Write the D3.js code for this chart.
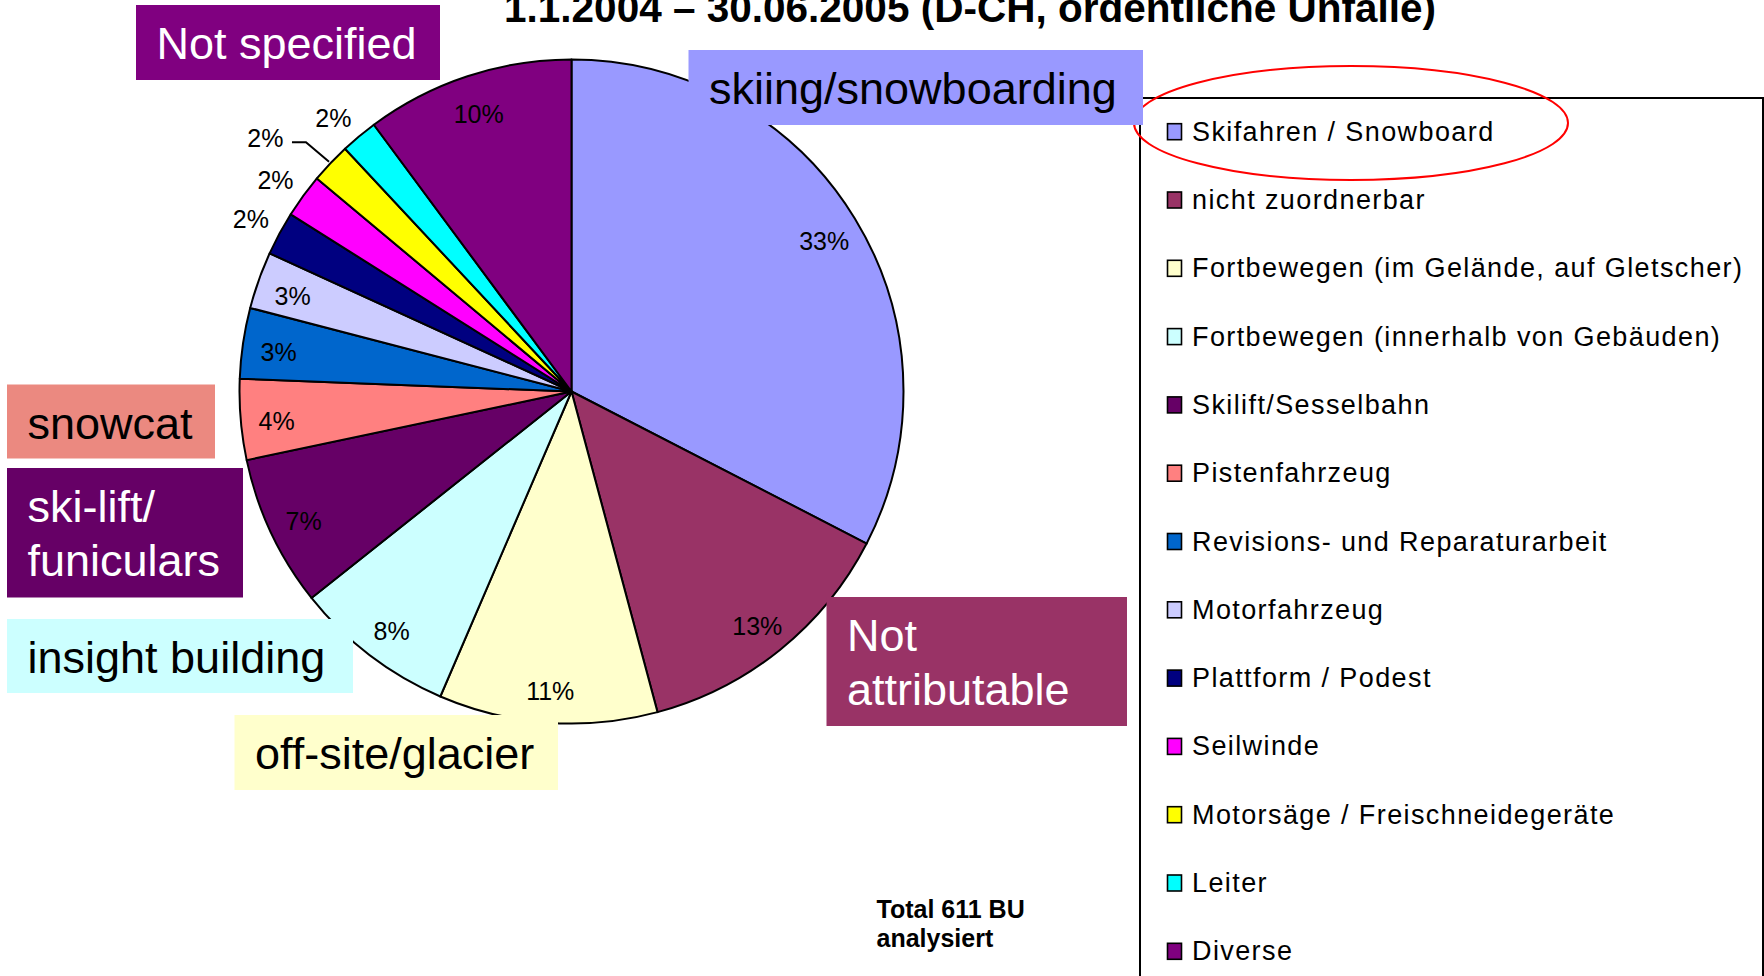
<!DOCTYPE html>
<html>
<head>
<meta charset="utf-8">
<script src="https://cdn.jsdelivr.net/npm/d3@7"></script>
<style>
  html, body { margin: 0; padding: 0; background: #fff; overflow: hidden; }
  svg { display: block; font-family: "Liberation Sans", Arial, sans-serif; }
</style>
</head>
<body>
<div id="chart"></div>
<script>
// data (611 analysed cases)
const categories = [
  'Skifahren / Snowboard',
  'nicht zuordnerbar',
  'Fortbewegen (im Gelände, auf Gletscher)',
  'Fortbewegen (innerhalb von Gebäuden)',
  'Skilift/Sesselbahn',
  'Pistenfahrzeug',
  'Revisions- und Reparaturarbeit',
  'Motorfahrzeug',
  'Plattform / Podest',
  'Seilwinde',
  'Motorsäge / Freischneidegeräte',
  'Leiter',
  'Diverse'
];
const counts = [199, 81, 65, 48, 45, 24, 21, 17, 13, 13, 12, 11, 62];
const colors = ['#9999FF', '#993366', '#FFFFCC', '#CCFFFF', '#660066', '#FF8080',
  '#0066CC', '#CCCCFF', '#000080', '#FF00FF', '#FFFF00', '#00FFFF', '#800080'];

const title = '1.1.2004 – 30.06.2005 (D-CH, ordentliche Unfälle)';
const totalNote = ['Total 611 BU', 'analysiert'];

// english callouts pasted over the chart
const calloutText = [
  ['Not specified'],
  ['skiing/snowboarding'],
  ['snowcat'],
  ['ski-lift/', 'funiculars'],
  ['insight building'],
  ['off-site/glacier'],
  ['Not', 'attributable']
];
const calloutFill = ['#800080', '#9999FF', '#EB8980', '#660066', '#CCFFFF', '#FFFFCC', '#993366'];
const calloutInk = ['#fff', '#000', '#000', '#fff', '#000', '#000', '#fff'];

// layout
const W = 1764, H = 976;
const cx = 571.5, cy = 391.5, R = 332;
const calloutBoxes = [
  [136, 5, 304, 75],
  [688.5, 50, 454.5, 75],
  [7, 384.5, 208, 74],
  [7, 468, 236, 129.5],
  [7, 619, 346, 74],
  [234.5, 715, 323.5, 75],
  [826.5, 597, 300.5, 129]
];
const nudge = { 10: { da: -0.054, r: 378 } }; // crowded label gets a leader line

const svg = d3.select('#chart').append('svg')
  .attr('width', W)
  .attr('height', H);

svg.append('rect').attr('width', W).attr('height', H).attr('fill', '#fff');

const total = d3.sum(counts);
const pct = d3.format('.0%');

const pie = d3.pie().sort(null).value(d => d);
const arcs = pie(counts);

const arc = d3.arc().innerRadius(0).outerRadius(R);
const inLabel = d3.arc().innerRadius(296).outerRadius(296);

const g = svg.append('g').attr('transform', `translate(${cx},${cy})`);

g.selectAll('.slice')
  .data(arcs)
  .enter()
  .append('path')
  .attr('class', 'slice')
  .attr('d', arc)
  .attr('fill', (d, i) => colors[i])
  .attr('stroke', '#000')
  .attr('stroke-width', 2)
  .attr('stroke-linejoin', 'round');

const polar = (r, a) => [r * Math.sin(a), -r * Math.cos(a)];
const capH = 18;

// percentage labels
arcs.forEach((d, i) => {
  const share = d.data / total;
  const mid = (d.startAngle + d.endAngle) / 2;
  const outside = share < 0.025;

  const t = g.append('text')
    .attr('text-anchor', 'middle')
    .attr('font-size', 25)
    .attr('fill', '#000')
    .text(pct(share));
  const w = t.node().getComputedTextLength();

  let c;
  if (outside) {
    // nearest corner of the label box sits on an outer ring
    const a = nudge[i] ? polar(nudge[i].r, mid + nudge[i].da) : polar(344, mid);
    c = [a[0] + Math.sign(a[0]) * w / 2, a[1] + Math.sign(a[1]) * capH / 2];
    t.attr('x', c[0]).attr('y', c[1] + capH / 2);
  } else {
    c = inLabel.centroid(d);
    t.attr('x', c[0]).attr('y', c[1] + capH / 2 + 4);
  }

  if (nudge[i]) {
    const x0 = c[0] + w / 2 + 8.5;
    const y0 = c[1] + 4.5;
    const end = polar(R + 2, mid);
    g.append('path')
      .attr('d', `M${x0},${y0}H${x0 + 14}L${end[0]},${end[1]}`)
      .attr('fill', 'none')
      .attr('stroke', '#000')
      .attr('stroke-width', 2);
  }
});

// legend
svg.append('rect')
  .attr('x', 1140)
  .attr('y', 98)
  .attr('width', 623)
  .attr('height', 1000)
  .attr('fill', 'none')
  .attr('stroke', '#000')
  .attr('stroke-width', 2);

const rowY = d3.scalePoint().domain(categories).range([140.7, 140.7 + 12 * 68.3]);

const item = svg.selectAll('.legend-item')
  .data(categories)
  .enter()
  .append('g')
  .attr('class', 'legend-item')
  .attr('transform', d => `translate(0,${rowY(d)})`);

item.append('rect')
  .attr('x', 1167.5)
  .attr('y', -17)
  .attr('width', 14)
  .attr('height', 16)
  .attr('fill', (d, i) => colors[i])
  .attr('stroke', '#000')
  .attr('stroke-width', 1.6);

item.append('text')
  .attr('x', 1192)
  .attr('y', 0)
  .attr('font-size', 27)
  .attr('letter-spacing', 1.4)
  .attr('fill', '#000')
  .text(d => d);

// red ring round the first legend entry
svg.append('ellipse')
  .attr('cx', 1351)
  .attr('cy', 123)
  .attr('rx', 217)
  .attr('ry', 57)
  .attr('fill', 'none')
  .attr('stroke', '#FF0000')
  .attr('stroke-width', 2);

// callout boxes
calloutText.forEach((lines, i) => {
  const [x, y, w, h] = calloutBoxes[i];
  svg.append('rect')
    .attr('x', x).attr('y', y)
    .attr('width', w).attr('height', h)
    .attr('fill', calloutFill[i]);
  const t = svg.append('text')
    .attr('x', x + 20.5)
    .attr('y', y + 54)
    .attr('font-size', 45)
    .attr('fill', calloutInk[i]);
  lines.forEach((line, j) => {
    t.append('tspan')
      .attr('x', x + 20.5)
      .attr('dy', j === 0 ? 0 : 53.5)
      .text(line);
  });
});

// title, cut at the top edge as in the source
svg.append('text')
  .attr('x', 970)
  .attr('y', 22)
  .attr('text-anchor', 'middle')
  .attr('font-size', 40.5)
  .attr('font-weight', 'bold')
  .attr('fill', '#000')
  .text(title);

const note = svg.append('text')
  .attr('x', 876.5)
  .attr('y', 917.5)
  .attr('font-size', 25)
  .attr('font-weight', 'bold')
  .attr('fill', '#000');
totalNote.forEach((line, j) => {
  note.append('tspan')
    .attr('x', 876.5)
    .attr('dy', j === 0 ? 0 : 29)
    .text(line);
});
</script>
</body>
</html>
